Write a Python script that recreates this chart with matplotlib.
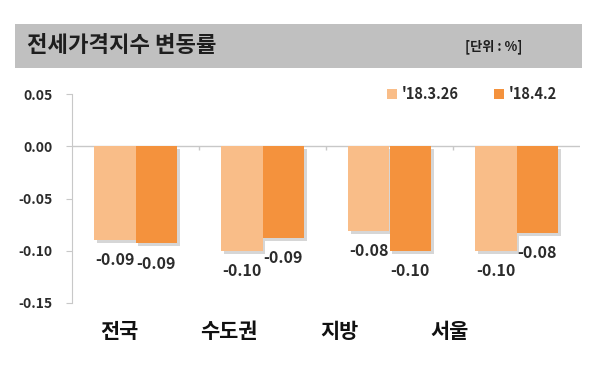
import numpy as np
import matplotlib.pyplot as plt
import matplotlib.patheffects as pe
from matplotlib.patches import Patch, Rectangle

plt.rcParams['font.family'] = ['Noto Sans CJK KR', 'DejaVu Sans']

# 데이터
지역 = ['전국', '수도권', '지방', '서울']
시리즈 = ["'18.3.26", "'18.4.2"]
값_0326 = [-0.090, -0.100, -0.081, -0.100]
값_0402 = [-0.093, -0.088, -0.100, -0.083]
y_눈금 = [0.05, 0.00, -0.05, -0.10, -0.15]

연한색 = '#F9BD88'
진한색 = '#F4923D'
글자색 = '#2B2B2B'

fig = plt.figure(figsize=(6, 3.9), dpi=100)

# 제목 띠
fig.patches.append(Rectangle((15/600, 1-68/390), 567/600, 44/390,
                             transform=fig.transFigure, facecolor='#C0C0C0',
                             edgecolor='none', zorder=0))
fig.text(27/600, 1-46/390, '전세가격지수 변동률', fontsize=16, fontweight='heavy',
         color='#1E1E1E', va='center', ha='left')
fig.text(465/600, 1-47/390, '[단위 : %]', fontsize=9.5, fontweight='bold',
         color='#1E1E1E', va='center', ha='left')

ax = fig.add_axes([72/600, 1-303/390, 508/600, 209/390])

x = np.arange(len(지역))
w = 0.325
그림자 = [pe.SimplePatchShadow(offset=(2, -2), shadow_rgbFace='#999999', alpha=0.4), pe.Normal()]
b1 = ax.bar(x - w/2, 값_0326, width=w, color=연한색, zorder=3, path_effects=그림자)
b2 = ax.bar(x + w/2, 값_0402, width=w, color=진한색, zorder=3, path_effects=그림자)

for bars, vals in [(b1, 값_0326), (b2, 값_0402)]:
    for b, v in zip(bars, vals):
        ax.annotate(f'{v:.2f}', (b.get_x() + b.get_width()/2, v),
                    xytext=(0, -14.5), textcoords='offset points',
                    ha='center', va='center', fontsize=11.5, fontweight='bold',
                    color=글자색)

ax.axhline(0, color='#C8C8C8', lw=1, zorder=2)
ax.vlines([0.5, 1.5, 2.5], -0.004, 0, color='#C8C8C8', lw=1, zorder=2)

ax.set_xlim(-0.5, 3.5)
ax.set_ylim(-0.15, 0.05)
ax.set_yticks(y_눈금)
ax.set_yticklabels([f'{v:.2f}' for v in y_눈금], fontsize=10, fontweight='bold', color=글자색)
ax.tick_params(axis='y', length=4, color='#C8C8C8', pad=10)
ax.set_xticks([])
for s in ['top', 'right', 'bottom']:
    ax.spines[s].set_visible(False)
ax.spines['left'].set_color('#C8C8C8')

# 범주 이름
for xp, name in zip([119, 229, 339, 450], 지역):
    fig.text(xp/600, 1-332/390, name, fontsize=15, fontweight='heavy',
             color='#111111', ha='center', va='center')

handles = [Patch(facecolor=연한색), Patch(facecolor=진한색)]
ax.legend(handles, 시리즈, loc='center left', bbox_to_anchor=(302/508, 1.0),
          ncol=2, frameon=False, handlelength=0.7, handleheight=0.7,
          handletextpad=0.3, columnspacing=2.4,
          prop={'weight': 'bold', 'size': 10.5})
for t in ax.get_legend().get_texts():
    t.set_color(글자색)

fig.savefig('out.png', dpi=100, facecolor='white')
